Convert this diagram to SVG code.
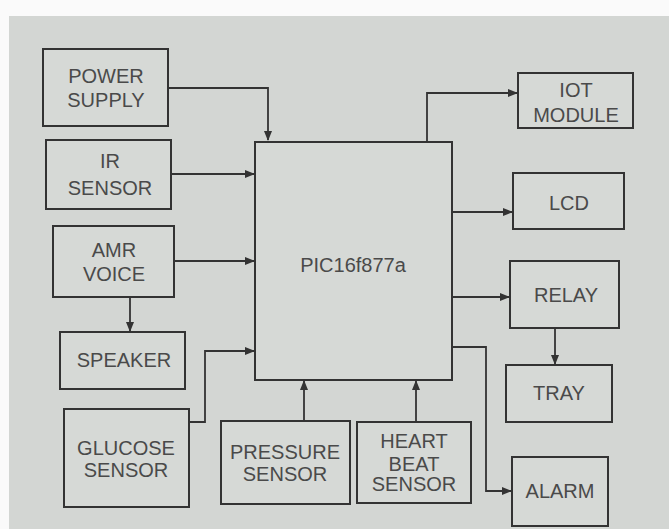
<svg xmlns="http://www.w3.org/2000/svg" width="669" height="529" viewBox="0 0 669 529">
<style>
.box{fill:#d6d9d6;stroke:#333;stroke-width:2}
.t{font-family:"Liberation Sans",Arial,sans-serif;font-size:20px;fill:#4a4a4a;text-anchor:middle}
.c{fill:none;stroke:#333;stroke-width:1.8}
</style>
<defs>
<marker id="ah" markerWidth="10" markerHeight="8" refX="9" refY="4" orient="auto" markerUnits="userSpaceOnUse">
<path d="M0,0 L10,4 L0,8 Z" fill="#333"/>
</marker>
</defs>
<rect x="0" y="0" width="669" height="529" fill="#fafafa"/>
<rect x="9" y="16" width="660" height="513" fill="#d3d6d3"/>
<g id="power"><rect class="box" x="43" y="49" width="125" height="77"/><text class="t" x="106" y="83">POWER</text><text class="t" x="106" y="107">SUPPLY</text></g>
<g id="ir"><rect class="box" x="46" y="140" width="125" height="69"/><text class="t" x="110" y="168">IR</text><text class="t" x="110" y="195">SENSOR</text></g>
<g id="amr"><rect class="box" x="53" y="226" width="121" height="71"/><text class="t" x="114" y="257">AMR</text><text class="t" x="114" y="281">VOICE</text></g>
<g id="speaker"><rect class="box" x="60" y="332" width="125" height="57"/><text class="t" x="124" y="367">SPEAKER</text></g>
<g id="glucose"><rect class="box" x="64" y="409" width="125" height="98"/><text class="t" x="126" y="455">GLUCOSE</text><text class="t" x="126" y="477">SENSOR</text></g>
<g id="pic"><rect class="box" x="255" y="142" width="197" height="238"/><text class="t" x="353" y="272">PIC16f877a</text></g>
<g id="pressure"><rect class="box" x="221" y="421" width="129" height="83"/><text class="t" x="285" y="459">PRESSURE</text><text class="t" x="285" y="481">SENSOR</text></g>
<g id="heart"><rect class="box" x="357" y="422" width="114" height="81"/><text class="t" x="414" y="448">HEART</text><text class="t" x="414" y="471">BEAT</text><text class="t" x="414" y="491">SENSOR</text></g>
<g id="iot"><rect class="box" x="518" y="73" width="115" height="55"/><text class="t" x="576" y="97">IOT</text><text class="t" x="576" y="122">MODULE</text></g>
<g id="lcd"><rect class="box" x="513" y="173" width="111" height="56"/><text class="t" x="569" y="210">LCD</text></g>
<g id="relay"><rect class="box" x="510" y="261" width="109" height="67"/><text class="t" x="566" y="302">RELAY</text></g>
<g id="tray"><rect class="box" x="506" y="365" width="106" height="57"/><text class="t" x="559" y="400">TRAY</text></g>
<g id="alarm"><rect class="box" x="512" y="457" width="96" height="69"/><text class="t" x="560" y="498">ALARM</text></g>
<g id="connectors">
<path class="c" d="M168,88 H268 V140" marker-end="url(#ah)"/>
<path class="c" d="M171,174 H254" marker-end="url(#ah)"/>
<path class="c" d="M174,261 H254" marker-end="url(#ah)"/>
<path class="c" d="M130,297 V331" marker-end="url(#ah)"/>
<path class="c" d="M189,422 H205 V351 H254" marker-end="url(#ah)"/>
<path class="c" d="M304,421 V381" marker-end="url(#ah)"/>
<path class="c" d="M416,422 V381" marker-end="url(#ah)"/>
<path class="c" d="M427,142 V93 H517" marker-end="url(#ah)"/>
<path class="c" d="M452,212 H512" marker-end="url(#ah)"/>
<path class="c" d="M452,297 H509" marker-end="url(#ah)"/>
<path class="c" d="M555,328 V364" marker-end="url(#ah)"/>
<path class="c" d="M452,347 H486 V491 H511" marker-end="url(#ah)"/>
</g>
</svg>
